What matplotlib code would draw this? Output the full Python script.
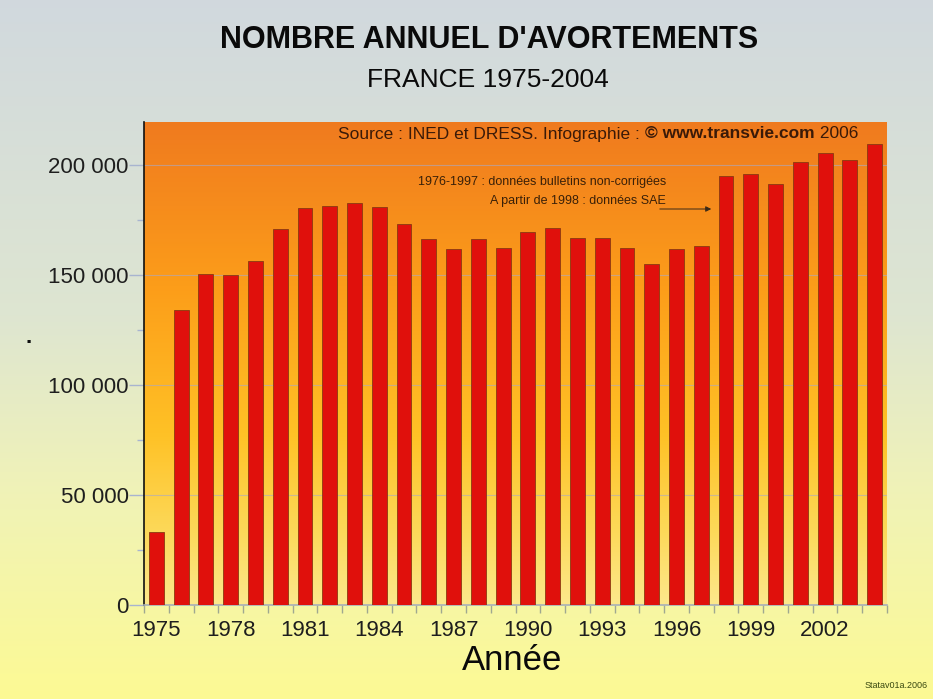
import numpy as np
import matplotlib
matplotlib.use("Agg")
import matplotlib.pyplot as plt
from matplotlib.colors import LinearSegmentedColormap
from matplotlib.ticker import FixedLocator, FuncFormatter

years = list(range(1975, 2005))
abortions = [33200, 134200, 150600, 150100, 156500, 171000, 180600, 181200,
             182700, 180800, 173100, 166400, 161900, 166400, 162500, 169700,
             171300, 167000, 167000, 162400, 155100, 161900, 163100, 195000,
             195900, 191400, 201400, 205700, 202400, 209700]
tick_years = [1975, 1978, 1981, 1984, 1987, 1990, 1993, 1996, 1999, 2002]

title = "NOMBRE ANNUEL D'AVORTEMENTS"
subtitle = "FRANCE 1975-2004"
source_parts = ["Source : INED et DRESS. Infographie : ", "© www.transvie.com", " 2006"]
note1 = "1976-1997 : données bulletins non-corrigées"
note2 = "A partir de 1998 : données SAE"
xlabel = "Année"
stamp = "Statav01a.2006"

plt.rcParams['font.family'] = ['Liberation Sans', 'DejaVu Sans']

W, H = 933, 699
fig = plt.figure(figsize=(W / 100, H / 100), dpi=100)

# figure background gradient
bg = fig.add_axes([0, 0, 1, 1], zorder=-10)
bg_cmap = LinearSegmentedColormap.from_list(
    "bg", [(0.0, (0.82, 0.85, 0.87)), (0.45, (0.87, 0.90, 0.82)),
           (0.7, (0.94, 0.95, 0.72)), (1.0, (0.99, 0.98, 0.58))])
bg.imshow(np.linspace(0, 1, 256).reshape(-1, 1), aspect='auto', cmap=bg_cmap,
          extent=[0, 1, 1, 0])
bg.set_axis_off()

# plot area
x0, x1, y0, y1 = 144, 887, 122, 605
ax = fig.add_axes([x0 / W, 1 - y1 / H, (x1 - x0) / W, (y1 - y0) / H])
ymax = 219600
pa_cmap = LinearSegmentedColormap.from_list(
    "pa", [(0.0, (0.94, 0.48, 0.12)), (0.35, (0.99, 0.62, 0.10)),
           (0.65, (1.0, 0.76, 0.15)), (0.85, (0.99, 0.85, 0.35)),
           (1.0, (0.99, 0.91, 0.55))])
ax.imshow(np.linspace(0, 1, 256).reshape(-1, 1), aspect='auto', cmap=pa_cmap,
          extent=[-0.5, len(years) - 0.5, 0, ymax], origin='upper', zorder=0)

xpos = np.arange(len(years))
ax.bar(xpos, abortions, width=0.6, color='#e0100c', edgecolor='#8a3a10',
       linewidth=0.6, zorder=3)

ax.set_xlim(-0.5, len(years) - 0.5)
ax.set_ylim(0, ymax)

for v in [50000, 100000, 150000, 200000]:
    ax.axhline(v, color='#a8a8c8', lw=0.8, alpha=0.6, zorder=1)

ax.yaxis.set_major_locator(FixedLocator([0, 50000, 100000, 150000, 200000]))
ax.yaxis.set_minor_locator(FixedLocator([25000, 75000, 125000, 175000]))
ax.yaxis.set_major_formatter(FuncFormatter(lambda v, p: f"{int(v):,}".replace(",", " ")))
ax.tick_params(axis='y', which='major', length=11, width=1, color='#a8b4d0',
               labelsize=16, labelcolor='#1e1e1e', pad=0)
ax.tick_params(axis='y', which='minor', length=5, width=1, color='#a8b4d0')

ax.set_xticks([years.index(y) for y in tick_years])
ax.set_xticklabels([str(y) for y in tick_years])
ax.set_xticks(np.arange(-0.5, len(years)), minor=True)
ax.tick_params(axis='x', which='major', length=0, labelsize=16,
               labelcolor='#1e1e1e', pad=11)
ax.tick_params(axis='x', which='minor', length=6, width=1, color='#a0a890')

for s in ['top', 'right']:
    ax.spines[s].set_visible(False)
ax.spines['left'].set_color('#101010')
ax.spines['left'].set_linewidth(1.2)
ax.spines['bottom'].set_color('#a8b0b8')
ax.spines['bottom'].set_linewidth(1.2)

# titles
fig.text(489 / W, 1 - 40 / H, title, ha='center', va='center', fontsize=22,
         fontweight='bold', color='#0a0a0a')
fig.text(488 / W, 1 - 80 / H, subtitle, ha='center', va='center', fontsize=19,
         color='#0a0a0a')
fig.text(512 / W, 1 - 661 / H, xlabel, ha='center', va='center', fontsize=25,
         color='#0a0a0a')

# source line assembled right-to-left
renderer = fig.canvas.get_renderer()
xr = 858 / W
ys = 1 - 134 / H
weights = ['normal', 'bold', 'normal']
for part, wgt in zip(reversed(source_parts), reversed(weights)):
    t = fig.text(xr, ys, part, ha='right', va='center', fontsize=12.5,
                 fontweight=wgt, color='#3a1a08')
    bb = t.get_window_extent(renderer=renderer)
    xr = bb.x0 / W

# notes
fig.text(666 / W, 1 - 182 / H, note1, ha='right', va='center', fontsize=9,
         color='#3a2008')
fig.text(666 / W, 1 - 201 / H, note2, ha='right', va='center', fontsize=9,
         color='#3a2008')
fig.patches.append(matplotlib.patches.FancyArrowPatch(
    (657 / W, 1 - 209 / H), (714 / W, 1 - 209 / H), transform=fig.transFigure,
    arrowstyle='-|>', mutation_scale=8, color='#3a2a18', lw=0.7))

# stray dot and stamp
fig.text(29 / W, 1 - 343 / H, "·", ha='center', va='center', fontsize=16,
         fontweight='bold', color='#101010')
fig.text(928 / W, 1 - 686 / H, stamp, ha='right', va='center', fontsize=6.5,
         color='#3a4a10')

fig.savefig("out.png", dpi=100)
